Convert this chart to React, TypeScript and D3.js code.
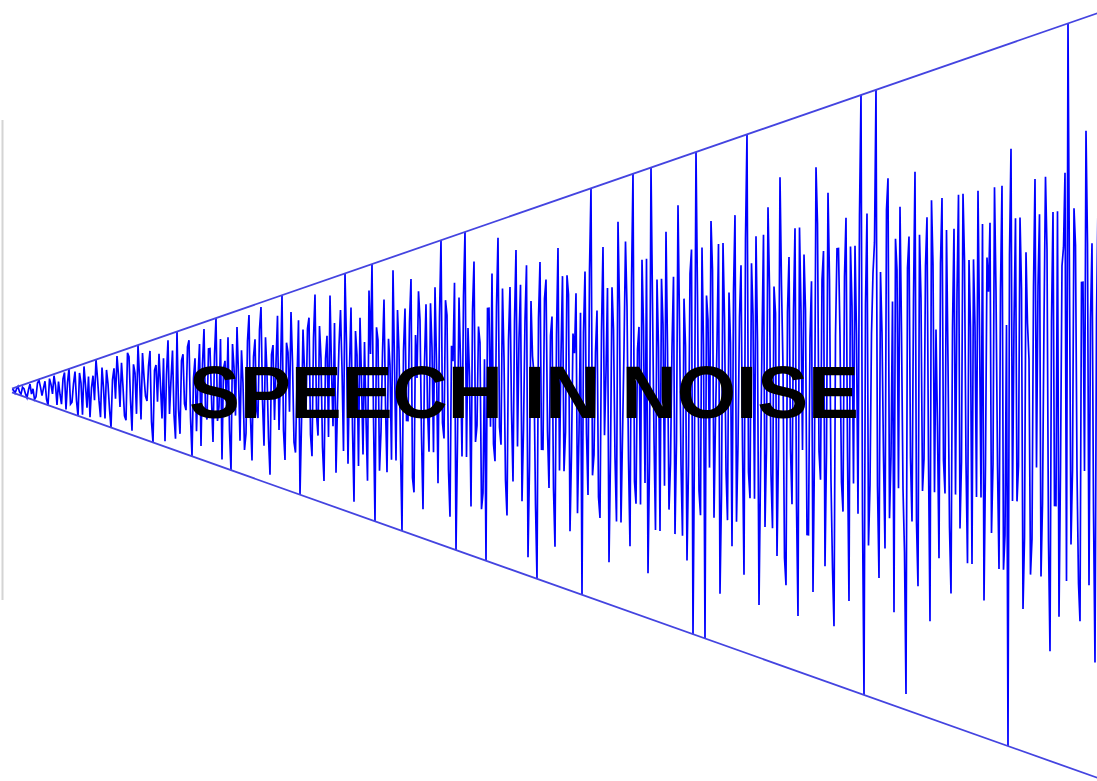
import React from "react";
import * as d3 from "d3";

// noise samples (even positions), as a fraction of the envelope at each sample
const noiseEven: number[][] = [
  [0.5, -0.9, 1, -0.7, 0.3, -1, 0.8, 0.2, -0.6, 0.9, -0.4, 0.7, -1, 0.4, 0.9, -0.8, -0.2, 0.6, -0.9, 1],
  [-0.5, 0.8, -1, 0.3, 0.9, -0.6, -0.9, 0.5, 1, -0.3, 0.7, -0.8, 0.2, -1, 0.6, 0.9, -0.4, 0.1, -0.7, 0.8],
  [-0.9, 0.4, 1, -0.6, 0.3, -0.2, 0.8, -1, 0.5, 0.7, -0.5, -0.9, 0.9, 0.2, -0.4, 1, -0.7, 0.6, -0.3, 0.8],
  [-1, 0.5, 0.2, -0.8, 0.9, -0.4, 0.6, -0.7, 1, -0.2, -0.9, 0.4, 0.7, -1, 0.3, 0.8, -0.6, 0.1, -0.5, 0.9],
  [-0.8, 0.6, -0.3, 0.95, -0.6, 0.2, -0.9, 0.5, 0.3, -0.4, 1, -0.7, 0.4, 0.8, -0.5, 0.1, -1, 0.6, -0.2, 0.7],
  [-0.6, 0.9, -0.4, 0.3, -0.8, 0.5, 0.85, -0.3, -0.7, 0.4, 0.2, 1, -0.6, 0.7, -0.9, 0.3, 0.6, -0.5, -0.2, 0.8],
  [1, -1, 0.4, -0.3, 0.7, -0.6, 0.2, 0.9, -0.5, 0.3, -1, 0.6, -0.2, 0.8, -0.7, 0.1, 0.5, -0.8, 0.6, -0.4],
  [0.3, 0.7, -0.6, 1, -0.3, 0.5, -0.8, 0.2, -1, 0.6, -0.4, 1, 0.4, -0.7, 0.8, -0.2, 0.3, -0.6, -1, 0.5],
  [0.7, -0.4, 0.9, -0.3, 0.2, -0.7, 0.6, -0.5, 0.8, 0.3, -0.6, 0.4, -0.9, 0.5, 0.1, -1, 0.7, -0.3, 0.6, -0.5],
  [0.4, -0.8, 0.75, 0.2, -0.4, 0.6, -0.7, 0.3, 0.5, -0.2, -1, 0.6, -0.5, 1, -0.3, 0.4, -0.6, 0.7, 0.1, -0.8],
  [0.5, -0.3, 0.8, -0.6, 0.2, 0.4, -0.7, 1, -0.5, 0.3, 0.6, -0.4, -0.8, 1, -0.2, 0.5, -0.6, 0.3, 0.7, -0.5],
  [0.2, -0.6, 0.8, -0.3, 0.4, -0.7, 0.5, -1, 1, -0.4, 0.6, -1, 0.3, 0.7, -0.5, 0.2, -0.8, 0.6, -0.3, 0.4],
  [-0.6, 0.7, -0.2, 0.5, -0.7, 1, -0.4, 0.3, 0.6, -0.8, 0.2, -0.5, 0.7, -0.3, 0.4, -0.6, 0.8, 0.1, -0.7, 0.5],
  [-0.4, 0.6, -0.8, 0.3, 0.5, -0.5, 0.2, -0.7, 0.8, -0.2, 0.4, -0.6, 0.7, -0.3, -0.8, 0.5, 0.2, -0.4, 0.6, -0.7],
  [0.3, 0.5, -0.4, 1, -1, 0.6, -0.3, 0.4, 1, -0.6, 0.2, -0.5, 0.7, -0.2, -0.7, 0.4, 0.6, -0.3, -0.95, 0.5],
  [-0.4, 0.7, -0.6, 0.3, -0.2, 0.55, -0.7, 0.4, 0.2, -0.5, 0.6, -0.3, 0.1, -0.6, 0.5, 0.3, -0.4, 0.6, -0.2, 0.4],
  [-0.5, 0.2, 0.6, -0.3, -0.6, 0.4, 0.5, -0.2, 0.3, -0.5, 0.6, -0.4, -1, 0.7, 0.2, -0.3, 0.5, -0.6, 0.4, 0.1],
  [-0.4, 0.6, 0.3, -0.5, 0.2, 0.4, -0.7, 0.5, -0.3, -0.6, 0.35, 0.6, 1, -0.4, 0.5, -0.2, -0.6, 0.3, 0.7, -0.5],
  [0.4, -0.7, 0.5],
];

// noise samples (odd positions, between the even ones)
const noiseOdd: number[][] = [
  [0.2, 0.4, -0.3, 0.6, -0.5, 0.1, -0.4, -0.9, 0.7, 0.3, 0.2, -0.6, 0.8, -0.2, 0.3, 0.5, -0.7, 0.9, 0.4, -0.6],
  [0.3, -0.4, 0.7, -0.9, 0.2, 0.5, 0.1, -0.3, 0.4, -0.8, 0.1, 0.6, -0.5, 0.3, -0.2, 0.4, 0.7, -0.6, 0.9, -0.2],
  [0.6, -0.5, 0.3, 0.8, -0.1, 0.5, -0.6, 0.4, -0.2, 0.1, 0.6, 0.3, -0.4, 0.7, -0.8, -0.3, 0.5, -0.2, 0.7, -0.4],
  [0.2, -0.6, 0.7, 0.4, -0.3, 0.6, -0.1, 0.5, -0.4, 0.7, 0.3, -0.2, -0.5, 0.6, -0.3, 0.2, 0.5, -0.7, 0.6, -0.3],
  [0.4, -0.2, 0.7, -0.1, 0.6, -0.5, 0.4, -0.3, 0.8, 0.2, -0.4, 0.5, -0.2, 0.3, -0.6, 0.7, -0.3, 0.2, 0.6, -0.4],
  [0.5, -0.2, 0.6, -0.5, 0.3, -0.4, 0.2, 0.6, -0.1, 0.7, -0.5, 0.4, 0.2, -0.3, 0.5, -0.6, 0.1, 0.4, -0.7, 0.3],
  [-0.2, 0.5, -0.6, 0.3, -0.1, 0.4, -0.5, 0.2, 0.6, -0.4, 0.3, -0.2, 0.5, -0.6, 0.4, 0.7, -0.3, 0.2, -0.1, 0.6],
  [-0.4, 0.2, 0.5, -0.2, 0.6, -0.5, 0.3, 0.7, -0.3, 0.2, 0.6, -0.4, 0.1, 0.5, -0.3, 0.4, -0.7, 0.2, 0.5, -0.2],
  [-0.3, 0.5, -0.2, 0.6, -0.5, 0.3, -0.1, 0.4, -0.3, 0.6, -0.2, 0.7, -0.4, 0.2, -0.6, 0.4, -0.3, 0.5, -0.2, 0.3],
  [-0.5, 0.3, -0.4, 0.6, -0.2, 0.5, -0.3, 0.2, -0.6, 0.4, 0.3, -0.2, 0.6, -0.4, 0.2, -0.5, 0.3, -0.2, 0.5, -0.3],
  [0.3, -0.6, 0.4, -0.2, 0.7, -0.3, 0.5, -0.4, 0.2, -0.5, 0.3, 0.6, -0.3, 0.4, -0.6, 0.2, 0.5, -0.4, 0.2, -0.3],
  [0.5, -0.2, 0.3, -0.6, 0.2, -0.3, 0.6, -0.2, 0.4, -0.5, 0.2, 0.4, -0.3, 0.5, -0.1, 0.6, -0.4, 0.3, -0.5, 0.2],
  [0.4, -0.5, 0.3, -0.2, 0.6, -0.3, 0.5, -0.4, 0.2, -0.3, 0.6, -0.2, 0.4, -0.5, 0.3, -0.2, 0.4, -0.6, 0.3, -0.2],
  [0.3, -0.4, 0.6, -0.2, 0.3, -0.5, 0.4, -0.2, 0.6, -0.3, 0.5, -0.2, 0.4, -0.6, 0.2, 0.5, -0.3, 0.4, -0.2, 0.5],
  [-0.3, 0.2, 0.6, -0.4, 0.3, -0.5, 0.2, 0.5, -0.3, 0.4, -0.2, 0.6, -0.4, 0.3, 0.5, -0.3, 0.2, -0.5, 0.4, -0.2],
  [0.3, -0.4, 0.5, -0.3, 0.4, -0.2, 0.6, -0.3, -0.1, 0.4, -0.2, 0.5, -0.4, 0.2, -0.3, 0.6, -0.2, 0.4, -0.5, 0.2],
  [0.4, -0.3, 0.2, 0.5, -0.2, 0.3, -0.4, 0.6, -0.2, 0.3, -0.5, 0.2, 0.4, -0.3, 0.5, -0.2, 0.3, -0.4, 0.2, -0.5],
  [0.3, -0.2, 0.5, -0.3, 0.6, -0.4, 0.2, -0.3, 0.5, -0.2, 0.4, -0.5, 0.3, -0.2, 0.4, -0.5, 0.3, -0.2, 0.4, 0.2],
  [-0.3, 0.2],
];

// envelope amplitude at first and last sample
const envelopeEnds = [0.005, 1];

const title = "SPEECH IN NOISE";

const W = 1097;
const H = 781;

export default function App() {
  const even = noiseEven.flat();
  const odd = noiseOdd.flat();
  const noise: number[] = [];
  even.forEach((v, i) => {
    noise.push(v);
    if (i < odd.length) noise.push(odd[i]);
  });

  const n = noise.length;
  const x = d3.scaleLinear().domain([0, n - 1]).range([12, 1098]);
  const env = d3.scaleLinear().domain([0, n - 1]).range(envelopeEnds);
  const y = d3.scaleLinear().domain([-1, 1]).range([772.95, 7.95]);

  const trace = d3
    .line<number>()
    .x((d, i) => x(i))
    .y((d, i) => y(d * env(i)))(noise);

  const ends = [0, n - 1];
  const upper = d3
    .line<number>()
    .x((i) => x(i))
    .y((i) => y(env(i)))(ends);
  const lower = d3
    .line<number>()
    .x((i) => x(i))
    .y((i) => y(-env(i)))(ends);

  return (
    <svg
      width={W}
      height={H}
      style={{ position: "absolute", left: 0, top: 0, background: "#fff" }}
    >
      <line x1={2.5} x2={2.5} y1={120} y2={600} stroke="#d4d4d4" strokeWidth={2} />
      <g transform="skewY(0.264)">
        <path d={trace || ""} fill="none" stroke="#0000ff" strokeWidth={1.7} />
        <path d={upper || ""} fill="none" stroke="#4444e0" strokeWidth={1.8} />
        <path d={lower || ""} fill="none" stroke="#4444e0" strokeWidth={1.8} />
      </g>
      <text
        x={189}
        y={418}
        fontFamily="'Liberation Sans', Arial, sans-serif"
        fontWeight="bold"
        fontSize={75}
        textLength={670}
        lengthAdjust="spacingAndGlyphs"
        fill="#000"
      >
        {title}
      </text>
    </svg>
  );
}
